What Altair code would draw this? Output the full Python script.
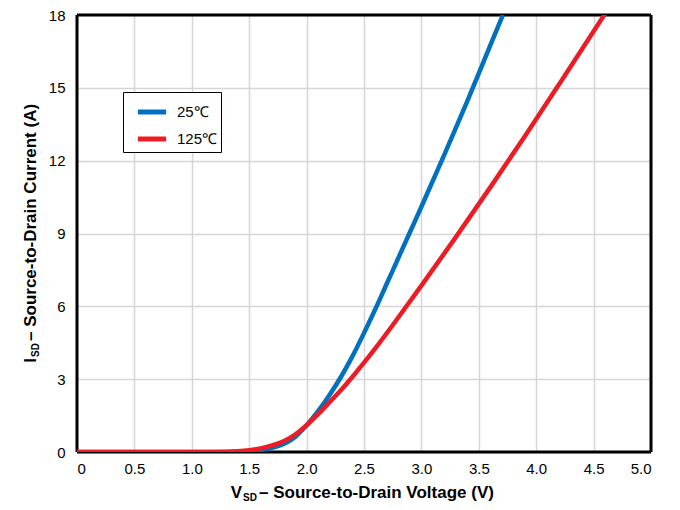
import altair as alt
import pandas as pd

# ---- data ----
series_names = ["25℃", "125℃"]
series_colors = ["#0070C0", "#ED1C24"]

v_25 = [0, 1.0, 1.3, 1.5, 1.6, 1.7, 1.8, 1.9, 2.0, 2.1, 2.2, 2.3, 2.4, 2.5, 2.6,
        2.7, 2.8, 2.9, 3.0, 3.2, 3.4, 3.6, 3.71]
i_25 = [0, 0, 0.005, 0.03, 0.08, 0.17, 0.33, 0.62, 1.1, 1.68, 2.35, 3.1, 3.95, 4.9, 5.9,
        6.95, 8.0, 9.05, 10.1, 12.25, 14.45, 16.75, 18.0]

v_125 = [0, 1.0, 1.2, 1.4, 1.5, 1.6, 1.7, 1.8, 1.9, 2.0, 2.1, 2.2, 2.3, 2.4, 2.5,
         2.6, 2.8, 3.0, 3.3, 3.6, 3.9, 4.2, 4.62]
i_125 = [0, 0, 0.005, 0.03, 0.07, 0.15, 0.27, 0.44, 0.72, 1.1, 1.56, 2.05, 2.55, 3.1, 3.68,
         4.28, 5.55, 6.85, 8.85, 10.9, 13.0, 15.15, 18.2]

x_ticks = [0, 0.5, 1.0, 1.5, 2.0, 2.5, 3.0, 3.5, 4.0, 4.5, 5.0]
y_ticks = [0, 3, 6, 9, 12, 15, 18]
x_limits = [0, 5]
y_limits = [0, 18]

x_title_parts = ["V", "SD", "– Source-to-Drain Voltage (V)"]
y_title_parts = ["I", "SD", "– Source-to-Drain Current (A)"]

FONT = "Liberation Sans"

df25 = pd.DataFrame({"v": v_25, "i": i_25, "series": series_names[0]})
df125 = pd.DataFrame({"v": v_125, "i": i_125, "series": series_names[1]})

W, H = 574, 437

x_scale = alt.Scale(domain=x_limits, nice=False)
y_scale = alt.Scale(domain=y_limits, nice=False)

x_main = alt.X(
    "v:Q", scale=x_scale,
    axis=alt.Axis(
        values=x_ticks, title=None, grid=True, ticks=False, domain=False,
        labelExpr="datum.value == 0 ? '0' : format(datum.value, '.1f')",
        labelPadding=9, labelFontSize=15, labelFont=FONT, labelColor="black",
        gridColor="#d6d6d6", gridWidth=1.5,
    ),
)
y_main = alt.Y(
    "i:Q", scale=y_scale,
    axis=alt.Axis(
        values=y_ticks, title=None, grid=True, ticks=False, domain=False,
        labelPadding=12, labelFontSize=15, labelFont=FONT, labelColor="black",
        gridColor="#d6d6d6", gridWidth=1.5,
    ),
)
x_plain = alt.X("v:Q", scale=x_scale, axis=None)
y_plain = alt.Y("i:Q", scale=y_scale, axis=None)

color_enc = alt.Color(
    "series:N",
    scale=alt.Scale(domain=series_names, range=series_colors),
    legend=alt.Legend(
        title=None, orient="none", legendX=46, legendY=77,
        strokeColor="black", fillColor="white", padding=3,
        symbolType="stroke", symbolStrokeWidth=5, symbolSize=800,
        symbolOffset=9,
        labelFontSize=15, labelFont=FONT, labelColor="black",
        rowPadding=0, labelOffset=8,
    ),
)

# black plot frame drawn from the axis limits
frame_v = alt.Chart(pd.DataFrame({"fx": x_limits})).mark_rule(
    color="black", strokeWidth=3).encode(
    x=alt.X("fx:Q", scale=x_scale, axis=None))
frame_h = alt.Chart(pd.DataFrame({"fy": y_limits})).mark_rule(
    color="black", strokeWidth=3).encode(
    y=alt.Y("fy:Q", scale=y_scale, axis=None))

line25 = alt.Chart(df25).mark_line(strokeWidth=4.5, interpolate="monotone", clip=True).encode(
    x=x_main, y=y_main, color=color_enc)
line125 = alt.Chart(df125).mark_line(strokeWidth=4.5, interpolate="monotone", clip=True).encode(
    x=x_plain, y=y_plain, color=color_enc)


def txt(s, x, y, size, angle=0, align="left", baseline="alphabetic"):
    kw = dict(font=FONT, fontSize=size, fontWeight="bold", color="black",
              align=align, baseline=baseline)
    if angle:
        kw["angle"] = angle
    return alt.Chart(pd.DataFrame({"t": [s]})).mark_text(**kw).encode(
        x=alt.value(x), y=alt.value(y), text="t:N")


x0 = 165
xt = [
    txt(x_title_parts[0], x0, 483, 17, align="right"),
    txt(x_title_parts[1], x0 + 1, 486, 10),
    txt(x_title_parts[2], x0 + 17, 483, 17),
]
y0 = 342
yt = [
    txt(y_title_parts[0], -41, y0 + 1, 17, angle=270, align="right"),
    txt(y_title_parts[1], -38, y0, 10, angle=270),
    txt(y_title_parts[2], -41, y0 - 16, 17, angle=270),
]

chart = alt.layer(frame_v, frame_h, line25, line125, *xt, *yt).resolve_axis(
    x="independent", y="independent"
).properties(
    width=W, height=H,
    background="white",
    autosize=alt.AutoSizeParams(type="none"),
    padding={"left": 69, "top": 7, "right": 20, "bottom": 50},
).configure_view(strokeWidth=0)

chart.save("out.html", embed_options={"renderer": "svg", "actions": False})
